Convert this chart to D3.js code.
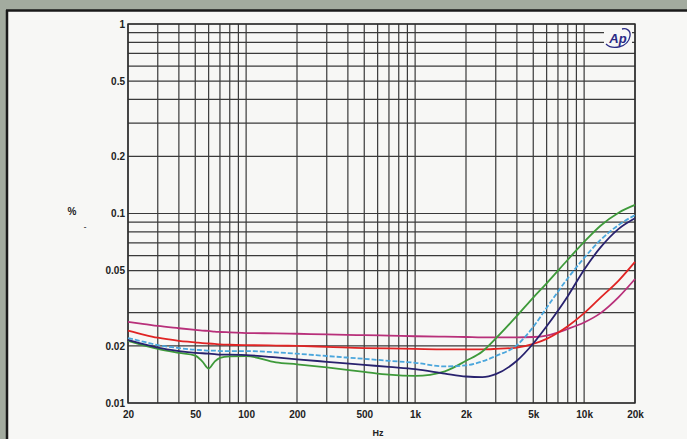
<!DOCTYPE html>
<html><head><meta charset="utf-8">
<script src="https://cdn.jsdelivr.net/npm/d3@7"></script>
<style>html,body{margin:0;padding:0;background:#a3ab9f;}svg{display:block;}</style>
</head><body>
<svg id="c" width="687" height="439"></svg>
<script>
const freqs = [20,25,30,40,50,55,60,65,70,80,100,150,200,300,500,700,1000,1500,2000,2500,3000,4000,5000,6000,8000,10000,12500,16000,20000];
const magenta = [0.0268,0.0261,0.0255,0.0248,0.0243,0.0241,0.0240,0.0238,0.0237,0.0236,0.0234,0.0233,0.0232,0.0230,0.0228,0.0227,0.0225,0.0224,0.0223,0.0222,0.0222,0.0222,0.0223,0.0227,0.0246,0.0266,0.0298,0.0362,0.0451];
const red = [0.0241,0.0229,0.0221,0.0213,0.0209,0.0207,0.0206,0.0205,0.0204,0.0203,0.0202,0.0201,0.0200,0.0198,0.0195,0.0194,0.0193,0.0192,0.0192,0.0192,0.0193,0.0196,0.0205,0.0218,0.0254,0.0298,0.0360,0.0443,0.0556];
const cyan = [0.0220,0.0210,0.0202,0.0195,0.0191,0.0190,0.0189,0.0189,0.0188,0.0188,0.0188,0.0185,0.0182,0.0177,0.0171,0.0167,0.0163,0.0156,0.0158,0.0166,0.0177,0.0202,0.0252,0.0318,0.0455,0.0583,0.0725,0.0870,0.0980];
const navy = [0.0215,0.0204,0.0196,0.0188,0.0184,0.0183,0.0182,0.0181,0.0180,0.0180,0.0179,0.0174,0.0170,0.0165,0.0159,0.0155,0.0151,0.0143,0.0138,0.0137,0.0142,0.0167,0.0206,0.0254,0.0366,0.0505,0.0662,0.0830,0.0944];
const green = [0.0213,0.0201,0.0193,0.0184,0.0178,0.0166,0.0152,0.0165,0.0173,0.0176,0.0177,0.0164,0.0160,0.0154,0.0146,0.0141,0.0139,0.0147,0.0167,0.0187,0.0219,0.0288,0.0360,0.0428,0.0570,0.0708,0.0862,0.1010,0.1110];

const xTickVals = [20,50,100,200,500,1000,2000,5000,10000,20000];
const xTickLabels = ["20","50","100","200","500","1k","2k","5k","10k","20k"];
const yTickVals = [1,0.5,0.2,0.1,0.05,0.02,0.01];
const yTickLabels = ["1","0.5","0.2","0.1","0.05","0.02","0.01"];
const xGrid = [20,30,40,50,60,70,80,90,100,200,300,400,500,600,700,800,900,1000,2000,3000,4000,5000,6000,7000,8000,9000,10000,20000];
const yGrid = [0.01,0.02,0.03,0.04,0.05,0.06,0.07,0.08,0.09,0.1,0.2,0.3,0.4,0.5,0.6,0.7,0.8,0.9,1];

const svg = d3.select("#c");
// panel
svg.append("rect").attr("x",8).attr("y",11).attr("width",679).attr("height",428).attr("fill","#f7f7f5");
svg.append("line").attr("x1",7).attr("x2",7).attr("y1",10).attr("y2",439).attr("stroke","#1a1a1a").attr("stroke-width",2.5);
svg.append("line").attr("x1",6).attr("x2",687).attr("y1",10.5).attr("y2",10.5).attr("stroke","#1a1a1a").attr("stroke-width",2.5);

const x = d3.scaleLog().domain([20,20000]).range([128,635]);
const y = d3.scaleLog().domain([0.01,1]).range([403,24]);

const g = svg.append("g");
g.selectAll("line.vg").data(xGrid).enter().append("line")
  .attr("x1",d=>x(d)).attr("x2",d=>x(d)).attr("y1",y(1)).attr("y2",y(0.01))
  .attr("stroke","#3a3a3a").attr("stroke-width",1.2);
g.selectAll("line.hg").data(yGrid).enter().append("line")
  .attr("x1",x(20)).attr("x2",x(20000)).attr("y1",d=>y(d)).attr("y2",d=>y(d))
  .attr("stroke","#3a3a3a").attr("stroke-width",1.2);
g.append("rect").attr("x",x(20)).attr("y",y(1)).attr("width",x(20000)-x(20)).attr("height",y(0.01)-y(1))
  .attr("fill","none").attr("stroke","#2a2a2a").attr("stroke-width",1.4);

// axes labels via d3 axes
const xAxis = d3.axisBottom(x).tickValues(xTickVals).tickFormat((d,i)=>xTickLabels[i]).tickSize(0).tickPadding(8);
const yAxis = d3.axisLeft(y).tickValues(yTickVals).tickFormat((d,i)=>yTickLabels[i]).tickSize(0).tickPadding(3);
const xa = svg.append("g").attr("transform","translate(0,"+y(0.01)+")").call(xAxis);
const ya = svg.append("g").attr("transform","translate("+x(20)+",0)").call(yAxis);
[xa,ya].forEach(a=>{a.select(".domain").remove();
  a.selectAll("text").attr("font-family","Liberation Sans, Arial, sans-serif").attr("font-weight","bold").attr("font-size",10).attr("fill","#222");});

svg.append("text").attr("x",378).attr("y",436).attr("text-anchor","middle").attr("font-family","Liberation Sans, Arial, sans-serif")
  .attr("font-weight","bold").attr("font-size",9).attr("fill","#222").text("Hz");
svg.append("text").attr("x",72).attr("y",215).attr("text-anchor","middle").attr("font-family","Liberation Sans, Arial, sans-serif")
  .attr("font-weight","bold").attr("font-size",10).attr("fill","#222").text("%");
svg.append("text").attr("x",85).attr("y",229).attr("text-anchor","middle").attr("font-family","Liberation Sans, Arial, sans-serif")
  .attr("font-weight","bold").attr("font-size",8).attr("fill","#444").text("-");

// curves
const series = [
  {v:magenta, c:"#b8307a", dash:null},
  {v:red, c:"#e02424", dash:null},
  {v:green, c:"#3e9a3a", dash:null},
  {v:cyan, c:"#4aa6dc", dash:"5,2"},
  {v:navy, c:"#28226e", dash:null}
];
const line = d3.line().x(d=>x(d[0])).y(d=>y(d[1])).curve(d3.curveMonotoneX);
series.forEach(s=>{
  svg.append("path").datum(freqs.map((f,i)=>[f,s.v[i]])).attr("d",line)
    .attr("fill","none").attr("stroke",s.c).attr("stroke-width",1.8)
    .attr("stroke-dasharray",s.dash);
});

// Ap logo
const lg = svg.append("g").attr("transform","translate(618,38)");
lg.append("rect").attr("x",-14).attr("y",-9).attr("width",28).attr("height",18).attr("fill","#f7f7f5");
lg.append("text").attr("x",0).attr("y",5).attr("text-anchor","middle").attr("font-family","Liberation Sans, Arial, sans-serif")
  .attr("font-style","italic").attr("font-weight","bold").attr("font-size",13).attr("fill","#2a2a85").text("Ap");
lg.append("path").attr("d","M-12,6 C-6,12 10,10 12,-2 C13,-8 8,-10 4,-9").attr("fill","none").attr("stroke","#2a2a85").attr("stroke-width",1.3);
</script>
</body></html>
